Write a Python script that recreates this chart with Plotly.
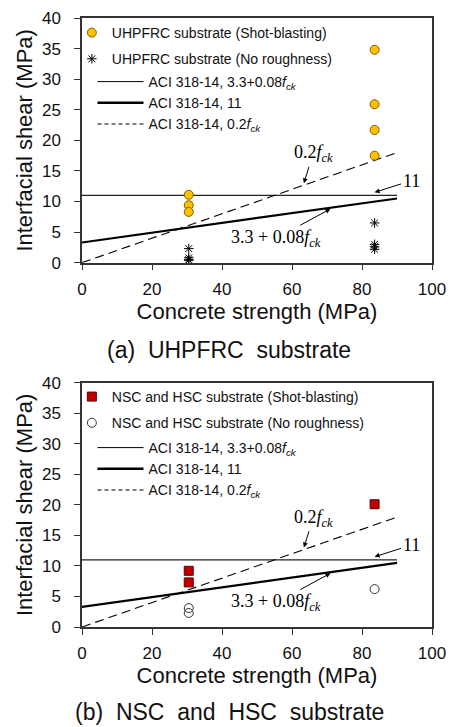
import plotly.graph_objects as go

# ---------------- data ----------------
uhp_sb_x = [30.5, 30.5, 30.5, 83.6, 83.6, 83.6, 83.6]
uhp_sb_y = [11.1, 9.4, 8.3, 34.8, 25.9, 21.7, 17.5]
uhp_nr_x = [30.5, 30.5, 30.5, 30.5, 83.6, 83.6, 83.6, 83.6]
uhp_nr_y = [2.3, 0.8, 0.5, 0.4, 6.5, 3.0, 2.6, 2.2]

nsc_sb_x = [30.5, 30.5, 83.6]
nsc_sb_y = [9.2, 7.3, 20.1]
nsc_nr_x = [30.5, 30.5, 83.6]
nsc_nr_y = [3.1, 2.3, 6.2]

aci_fc = [0, 90]
aci_lin = [3.3, 10.5]     # 3.3 + 0.08 fck
aci_const = [11, 11]      # 11 MPa
aci_02 = [0, 18]          # 0.2 fck

x_ticks = [0, 20, 40, 60, 80, 100]
y_ticks = [0, 5, 10, 15, 20, 25, 30, 35, 40]

FCK = "<i>f</i><sub><i>ck</i></sub>"
SANS = "Liberation Sans, Arial, sans-serif"
SERIF = "Liberation Serif, Times New Roman, serif"

fig = go.Figure()

def add_panel(xa, ya, sb_x, sb_y, nr_x, nr_y, sb_name, nr_name, sb_marker, nr_marker, leg_m, leg_l):
    # design lines (plotted, no legend)
    fig.add_trace(go.Scatter(x=aci_fc, y=aci_const, mode="lines", xaxis=xa, yaxis=ya,
                             line=dict(color="#222", width=1.2), showlegend=False, hoverinfo="skip"))
    fig.add_trace(go.Scatter(x=aci_fc, y=aci_lin, mode="lines", xaxis=xa, yaxis=ya,
                             line=dict(color="#000", width=2.2), showlegend=False, hoverinfo="skip"))
    fig.add_trace(go.Scatter(x=aci_fc, y=aci_02, mode="lines", xaxis=xa, yaxis=ya,
                             line=dict(color="#000", width=1.1, dash="9px,5px"), showlegend=False, hoverinfo="skip"))
    # data
    fig.add_trace(go.Scatter(x=sb_x, y=sb_y, mode="markers", xaxis=xa, yaxis=ya, name=sb_name,
                             marker=sb_marker, legend=leg_m, legendgroup=sb_name))
    fig.add_trace(go.Scatter(x=nr_x, y=nr_y, mode="markers", xaxis=xa, yaxis=ya, name=nr_name,
                             marker=nr_marker, legend=leg_m, legendgroup=nr_name))
    # legend entries for the design lines (as drawn in the original legend)
    for nm, ln in [("ACI 318-14, 3.3+0.08" + FCK, dict(color="#000", width=1.0)),
                   ("ACI 318-14, 11", dict(color="#000", width=2.4)),
                   ("ACI 318-14, 0.2" + FCK, dict(color="#000", width=1.0, dash="4px,3px"))]:
        fig.add_trace(go.Scatter(x=[None], y=[None], mode="lines", xaxis=xa, yaxis=ya, name=nm,
                                 line=ln, legend=leg_l))

add_panel("x", "y", uhp_sb_x, uhp_sb_y, uhp_nr_x, uhp_nr_y,
          "UHPFRC substrate (Shot-blasting)", "UHPFRC substrate (No roughness)",
          dict(symbol="circle", size=9, color="#FFC000", line=dict(color="#7F6000", width=1)),
          dict(symbol="asterisk-open", size=8, color="#000", line=dict(color="#000", width=1)),
          "legend", "legend2")
add_panel("x2", "y2", nsc_sb_x, nsc_sb_y, nsc_nr_x, nsc_nr_y,
          "NSC and HSC substrate (Shot-blasting)", "NSC and HSC substrate (No roughness)",
          dict(symbol="square", size=9, color="#C00000", line=dict(color="#600000", width=1)),
          dict(symbol="circle-open", size=9, color="#333", line=dict(color="#333", width=1)),
          "legend3", "legend4")

H = 727
T, B = 18, 100
PH = H - T - B
def py(p):
    return (H - B - p) / PH

axis_common = dict(showline=True, linecolor="#333", linewidth=1.5, mirror=True,
                   ticks="outside", ticklen=6, tickcolor="#333", tickwidth=1.2,
                   showgrid=False, zeroline=False, automargin=False,
                   tickfont=dict(family=SANS, size=17, color="#111"))

xcommon = dict(axis_common, range=[0, 100], tickvals=x_ticks, ticklabelstandoff=4,
               title=dict(text="Concrete strength (MPa)", font=dict(family=SANS, size=22, color="#111"),
                          standoff=4))
ycommon = dict(axis_common, range=[0, 40], tickvals=y_ticks, ticklabelstandoff=10,
               title=dict(text="Interfacial shear (MPa)", font=dict(family=SANS, size=22, color="#111"),
                          standoff=3))

top_dom = [py(262.7), 1.0]
bot_dom = [0.0, py(382.7)]

leg_font = dict(family=SANS, size=14, color="#111")
def leg_m(ytop):
    return dict(x=-0.029, xanchor="left", y=py(ytop), yanchor="top", bgcolor="rgba(0,0,0,0)",
                font=leg_font, tracegroupgap=5, traceorder="grouped", itemwidth=30)
def leg_l(ytop):
    return dict(x=0.03, xanchor="left", y=py(ytop), yanchor="top", bgcolor="rgba(0,0,0,0)",
                font=leg_font, itemwidth=46, tracegroupgap=0)

ann = []
def panel_ann(xa, ya):
    ref = dict(xref=xa, yref=ya, axref=xa, ayref=ya, showarrow=True, arrowhead=2,
               arrowsize=1, arrowwidth=1, arrowcolor="#000",
               font=dict(family=SERIF, size=18, color="#000"))
    return [
        dict(ref, x=63.4, y=13.0, ax=66.0, ay=17.8, text="0.2" + FCK),
        dict(ref, x=83.6, y=11.5, ax=94.0, ay=13.4, text="11"),
        dict(ref, x=71.0, y=8.8, ax=55.5, ay=4.0, text="3.3 + 0.08" + FCK),
    ]
ann += panel_ann("x", "y") + panel_ann("x2", "y2")
ann += [
    dict(xref="paper", yref="paper", x=0.42, y=py(350), xanchor="center", yanchor="middle",
         text="(a)\u00a0\u00a0UHPFRC\u00a0\u00a0substrate", showarrow=False,
         font=dict(family=SANS, size=23, color="#111")),
    dict(xref="paper", yref="paper", x=0.42, y=py(712), xanchor="center", yanchor="middle",
         text="(b)\u00a0\u00a0NSC\u00a0\u00a0and\u00a0\u00a0HSC\u00a0\u00a0substrate", showarrow=False,
         font=dict(family=SANS, size=23, color="#111")),
]

fig.update_layout(
    width=454, height=727,
    margin=dict(l=82, r=22, t=T, b=B, autoexpand=False),
    paper_bgcolor="white", plot_bgcolor="white",
    xaxis=dict(xcommon, domain=[0, 1], anchor="y"),
    yaxis=dict(ycommon, domain=top_dom, anchor="x"),
    xaxis2=dict(xcommon, domain=[0, 1], anchor="y2"),
    yaxis2=dict(ycommon, domain=bot_dom, anchor="x2"),
    legend=leg_m(17),
    legend2=leg_l(66),
    legend3=leg_m(381),
    legend4=leg_l(432),
    annotations=ann,
    showlegend=True,
)

fig.write_html("out.html", config={"displayModeBar": False},
               post_script="document.body.style.margin='0';document.body.style.padding='0';")
